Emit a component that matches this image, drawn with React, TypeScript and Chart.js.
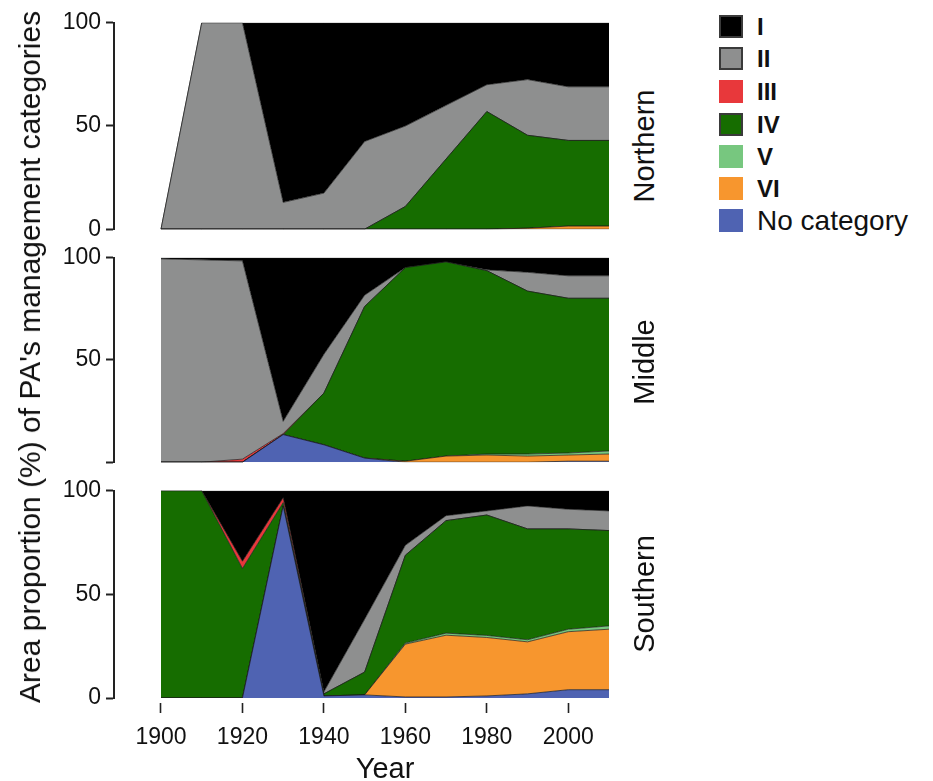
import React, { useEffect, useRef } from 'react';
import { Chart, registerables } from 'chart.js';

Chart.register(...registerables);

// ---------- data ----------
const years = [1900, 1910, 1920, 1930, 1940, 1950, 1960, 1970, 1980, 1990, 2000, 2010];
const xTicks = [1900, 1920, 1940, 1960, 1980, 2000];
const yTicks = [0, 50, 100];

// stacking order from bottom to top
const categories = ['No category', 'VI', 'V', 'IV', 'III', 'II', 'I'];
const legendOrder = ['I', 'II', 'III', 'IV', 'V', 'VI', 'No category'];

const northNoCat = [0, 0, 0, 0, 0, 0, 0, 0, 0, 0, 0, 0];
const northVI = [0, 0, 0, 0, 0, 0, 0, 0, 0, 0.5, 1.5, 1.5];
const northV = [0, 0, 0, 0, 0, 0, 0, 0, 0, 0, 0, 0];
const northIV = [0, 0, 0, 0, 0, 0, 11, 34, 57, 45, 41.5, 41.5];
const northIII = [0, 0, 0, 0, 0, 0, 0, 0, 0, 0, 0, 0];
const northII = [0, 100, 100, 13, 17.5, 42.5, 39, 26, 13, 27, 26, 26];
const northI = [0, 0, 0, 87, 82.5, 57.5, 50, 40, 30, 27.5, 31, 31];

const middleNoCat = [0, 0, 0, 13.5, 8.5, 2, 0, 0, 0, 0, 0.5, 0.5];
const middleVI = [0, 0, 0, 0, 0, 0, 0.5, 3, 3.5, 3, 3, 3.5];
const middleV = [0, 0, 0, 0, 0, 0, 0, 0, 0.5, 1, 1, 1.5];
const middleIV = [0, 0, 0, 0, 25.3, 74.2, 94.7, 95, 89.7, 79.7, 75.7, 74.7];
const middleIII = [0, 0, 1.5, 0.5, 0, 0, 0, 0, 0, 0, 0, 0];
const middleII = [99.5, 99, 97, 6, 19, 5.5, 0, 0, 0.4, 9.2, 11, 11];
const middleI = [0.5, 1, 1.5, 80, 47.2, 18.3, 4.8, 2, 5.9, 7.1, 8.8, 8.8];

const southNoCat = [0, 0, 0, 92.7, 1, 1.5, 0.5, 0.5, 1, 2, 4, 4];
const southVI = [0, 0, 0, 0, 0, 0, 25.5, 29.8, 28.2, 25.1, 28, 29.2];
const southV = [0, 0, 0, 0, 0, 0, 0.5, 1, 1, 1, 1.2, 1.6];
const southIV = [100, 100, 62.5, 1.6, 1, 11, 42.4, 54.3, 58.1, 53.5, 48.4, 46];
const southIII = [0, 0, 3.5, 2.4, 0, 0, 0, 0, 0, 0, 0, 0];
const southII = [0, 0, 0, 0, 1, 25.5, 4.8, 2.4, 2, 11.1, 9.5, 9.5];
const southI = [0, 0, 34, 3.3, 97, 62, 26.3, 12, 9.7, 7.3, 8.9, 9.7];

const northSeries = [northNoCat, northVI, northV, northIV, northIII, northII, northI];
const middleSeries = [middleNoCat, middleVI, middleV, middleIV, middleIII, middleII, middleI];
const southSeries = [southNoCat, southVI, southV, southIV, southIII, southII, southI];

// ---------- styles ----------
const colorMap: Record<string, string> = {
  'I': '#000000',
  'II': '#8e8f8f',
  'III': '#e8383b',
  'IV': '#166d00',
  'V': '#77c77f',
  'VI': '#f7962e',
  'No category': '#4f63b2',
};
const boxBorder: Record<string, boolean> = { 'I': true, 'II': true, 'IV': true };

const FONT = '"Liberation Sans", Arial, Helvetica, sans-serif';
const X_MIN = 1888.46;
const X_MAX = 2010;

interface PanelProps {
  series: number[][];
  top: number; // chart area top (px)
  bottom: number; // chart area bottom (px)
  showX: boolean;
  hideZeroLabel: boolean;
}

function Panel({ series, top, bottom, showX, hideZeroLabel }: PanelProps) {
  const ref = useRef<HTMLCanvasElement | null>(null);
  const padTop = 16;
  const xAxisH = showX ? 83 : 0;
  const padBottom = showX ? 0 : 16;
  const canvasTop = top - padTop;
  const canvasH = (bottom - top) + padTop + xAxisH + padBottom;

  useEffect(() => {
    if (!ref.current) return;
    const datasets = categories.map((name, i) => ({
      label: name,
      data: series[i].map((v, j) => ({ x: years[j], y: v })),
      backgroundColor: colorMap[name],
      borderColor: 'rgba(25,25,25,0.7)',
      borderWidth: 1,
      fill: i === 0 ? 'origin' : '-1',
      pointRadius: 0,
      tension: 0,
    }));
    const chart = new Chart(ref.current, {
      type: 'line',
      data: { datasets },
      options: {
        responsive: false,
        animation: false,
        events: [],
        layout: { padding: { top: padTop, bottom: padBottom, left: 0, right: 11 } },
        plugins: { legend: { display: false }, tooltip: { enabled: false } },
        scales: {
          x: {
            type: 'linear',
            min: X_MIN,
            max: X_MAX,
            display: showX,
            afterBuildTicks: (scale: any) => {
              scale.ticks = xTicks.map((v) => ({ value: v }));
            },
            afterFit: (scale: any) => {
              scale.height = xAxisH;
            },
            border: { display: false },
            grid: {
              drawOnChartArea: false,
              drawTicks: true,
              tickLength: 15,
              tickBorderDash: [0, 5, 10, 100],
              tickColor: '#222',
              tickWidth: 1.6,
            },
            ticks: {
              color: '#111',
              font: { family: FONT, size: 23 },
              padding: 11,
              maxRotation: 0,
              autoSkip: false,
              callback: (v: any) => String(v),
            },
          },
          y: {
            stacked: true,
            min: 0,
            max: 100,
            afterBuildTicks: (scale: any) => {
              scale.ticks = yTicks.map((v) => ({ value: v }));
            },
            afterFit: (scale: any) => {
              scale.width = 114;
            },
            border: { display: true, color: '#222', width: 2 },
            grid: {
              drawOnChartArea: false,
              drawTicks: true,
              tickLength: 8,
              tickColor: '#222',
              tickWidth: 2,
            },
            ticks: {
              color: '#111',
              font: { family: FONT, size: 23 },
              padding: 5,
              autoSkip: false,
              callback: (v: any) => (hideZeroLabel && v === 0 ? '' : String(v)),
            },
          },
        },
      },
    } as any);
    return () => chart.destroy();
  }, [series, top, bottom, showX, hideZeroLabel]);

  return (
    <canvas
      ref={ref}
      width={620}
      height={canvasH}
      style={{ position: 'absolute', left: 0, top: canvasTop, width: 620, height: canvasH }}
    />
  );
}

function RotLabel({ text, cx, cy, size }: { text: string; cx: number; cy: number; size: number }) {
  return (
    <div
      style={{
        position: 'absolute',
        left: cx,
        top: cy,
        transform: 'translate(-50%, -50%) rotate(-90deg)',
        whiteSpace: 'nowrap',
        fontFamily: FONT,
        fontSize: size,
        color: '#111',
        lineHeight: 1,
      }}
    >
      {text}
    </div>
  );
}

export default function App() {
  const legendTops = [15, 47, 80, 113, 145, 177, 209];
  return (
    <div
      style={{
        position: 'absolute',
        left: 0,
        top: 0,
        width: 933,
        height: 781,
        background: '#fff',
        overflow: 'hidden',
      }}
    >
      <Panel series={northSeries} top={20} bottom={232} showX={false} hideZeroLabel={false} />
      <Panel series={middleSeries} top={255} bottom={465} showX={false} hideZeroLabel={true} />
      <Panel series={southSeries} top={488} bottom={698} showX={true} hideZeroLabel={false} />

      <RotLabel text="Area proportion (%) of PA's management categories" cx={30} cy={357} size={30} />
      <RotLabel text="Northern" cx={644} cy={146} size={29} />
      <RotLabel text="Middle" cx={644} cy={362} size={29} />
      <RotLabel text="Southern" cx={644} cy={594} size={29} />

      <div
        style={{
          position: 'absolute',
          left: 385,
          top: 768,
          transform: 'translate(-50%, -50%)',
          fontFamily: FONT,
          fontSize: 29,
          color: '#111',
          lineHeight: 1,
          whiteSpace: 'nowrap',
        }}
      >
        Year
      </div>

      {legendOrder.map((name, i) => (
        <div key={name}>
          <div
            style={{
              position: 'absolute',
              left: 719,
              top: legendTops[i],
              width: 24,
              height: 23,
              boxSizing: 'border-box',
              background: colorMap[name],
              border: boxBorder[name] ? '2px solid #3a3a3a' : 'none',
            }}
          />
          <div
            style={{
              position: 'absolute',
              left: 757,
              top: legendTops[i] + 11.5,
              transform: 'translateY(-50%)',
              fontFamily: FONT,
              fontSize: name === 'No category' ? 28 : 24,
              fontWeight: name === 'No category' ? 'normal' : 'bold',
              color: '#111',
              lineHeight: 1,
              whiteSpace: 'nowrap',
            }}
          >
            {name}
          </div>
        </div>
      ))}
    </div>
  );
}
